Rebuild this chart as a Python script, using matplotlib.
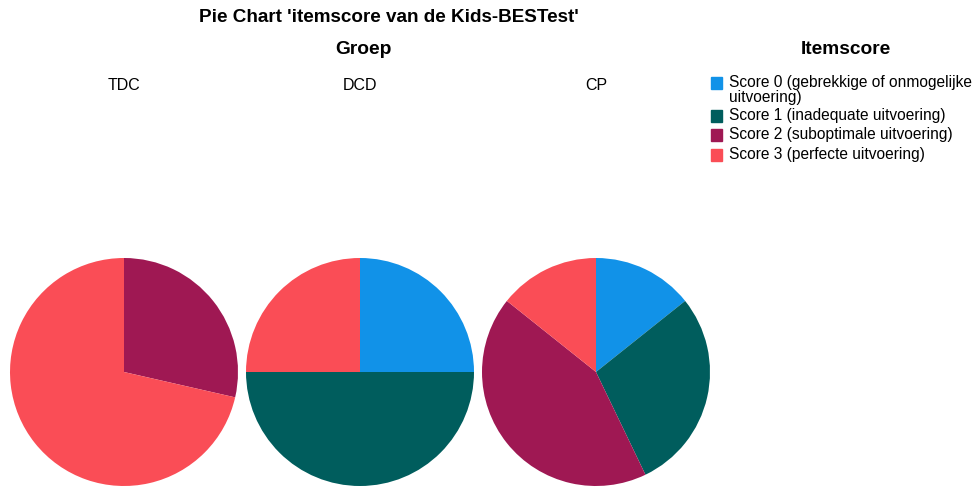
import matplotlib.pyplot as plt
from matplotlib.patches import Rectangle

plt.rcParams['font.family'] = ['Liberation Sans', 'DejaVu Sans']

groups = ["TDC", "DCD", "CP"]
score_labels = [
    "Score 0 (gebrekkige of onmogelijke\nuitvoering)",
    "Score 1 (inadequate uitvoering)",
    "Score 2 (suboptimale uitvoering)",
    "Score 3 (perfecte uitvoering)",
]
colors = ["#1192E8", "#005D5D", "#9F1853", "#FA4D56"]

# counts per score (0..3) per group
tdc = [0, 0, 2, 5]
dcd = [1, 2, 0, 1]
cp = [1, 2, 3, 1]
counts = [tdc, dcd, cp]

W, H = 979, 488
fig = plt.figure(figsize=(W / 100, H / 100), dpi=100)

centers_x = [124, 360, 596]
cy = 372
r = 114

for name, vals, cx in zip(groups, counts, centers_x):
    ax = fig.add_axes([(cx - r) / W, (H - cy - r) / H, 2 * r / W, 2 * r / H])
    ax.pie(vals, colors=colors, startangle=90, counterclock=False,
           wedgeprops=dict(linewidth=0))
    ax.set_xlim(-1, 1)
    ax.set_ylim(-1, 1)
    ax.set_aspect('equal')
    fig.text(cx / W, 1 - 85 / H, name, ha='center', va='center', fontsize=11.5)

fig.text(389 / W, 1 - 18 / H, "Pie Chart 'itemscore van de Kids-BESTest'",
         ha='center', va='center', fontsize=13.6, fontweight='bold')
fig.text(363 / W, 1 - 50 / H, "Groep", ha='center', va='center',
         fontsize=13.8, fontweight='bold')
fig.text(846 / W, 1 - 49 / H, "Itemscore", ha='center', va='center',
         fontsize=13.8, fontweight='bold')

# legend
rows_y = [83, 116, 135, 155]
for lab, col, y in zip(score_labels, colors, rows_y):
    fig.patches.append(Rectangle((711 / W, 1 - (y + 6) / H), 11 / W, 12 / H,
                                 transform=fig.transFigure, color=col,
                                 figure=fig))
    fig.text(729 / W, 1 - (y - 8) / H, lab, ha='left', va='top',
             fontsize=11.2, linespacing=1.02)

fig.savefig("out.png", dpi=100)
